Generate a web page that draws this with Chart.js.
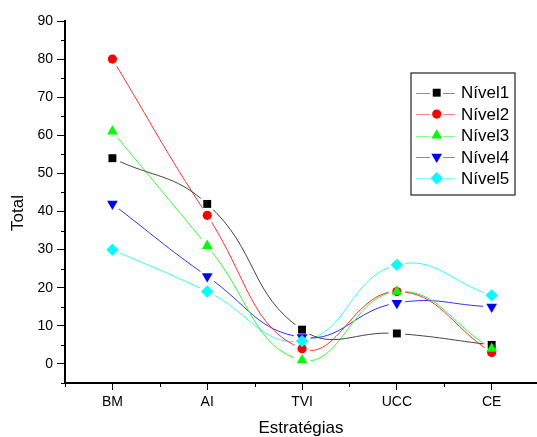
<!DOCTYPE html>
<html><head><meta charset="utf-8">
<script src="https://cdn.jsdelivr.net/npm/chart.js@4/dist/chart.umd.min.js"></script>
<style>html,body{margin:0;padding:0;background:#fff;}canvas{display:block;}</style>
</head><body>
<canvas id="c" width="537" height="437"></canvas>
<script>
const categories = ['BM', 'AI', 'TVI', 'UCC', 'CE'];
const nivel1 = [54, 42, 9, 8, 5];
const nivel2 = [80, 39, 4, 19, 3];
const nivel3 = [61, 31, 1, 19, 4];
const nivel4 = [42, 23, 7, 16, 15];
const nivel5 = [30, 19, 6, 26, 18];
const seriesNames = ['Nível1', 'Nível2', 'Nível3', 'Nível4', 'Nível5'];
const yTickValues = [0, 10, 20, 30, 40, 50, 60, 70, 80, 90];
const xTitle = 'Estratégias';
const yTitle = 'Total';

const seriesValues = [nivel1, nivel2, nivel3, nivel4, nivel5];
const colors = ['#000000', '#ff0000', '#00ff00', '#0000ff', '#00ffff'];
const lineColors = ['#444444', '#ff3030', '#30ff30', '#3030ff', '#30ffff'];
const marks = [
  {style: 'rect', r: 5.6, rot: 0},
  {style: 'circle', r: 4.6, rot: 0},
  {style: 'triangle', r: 6.2, rot: 0},
  {style: 'triangle', r: 6.2, rot: 180},
  {style: 'rectRot', r: 6.2, rot: 0}
];
const FONT = '"Liberation Sans", Arial, sans-serif';
const GAP = 8.5;

const datasets = [];
seriesValues.forEach((vals, i) => {
  datasets.push({
    kind: 'line',
    data: vals.map((v, k) => ({x: k, y: v})),
    borderColor: lineColors[i], borderWidth: 1, tension: 0.45,
    pointRadius: 0, fill: false, order: 20 + i
  });
});
seriesValues.forEach((vals, i) => {
  datasets.push({
    kind: 'points',
    data: vals.map((v, k) => ({x: k, y: v})),
    showLine: false,
    pointStyle: marks[i].style, pointRadius: marks[i].r, pointRotation: marks[i].rot,
    pointBackgroundColor: colors[i], pointBorderColor: colors[i], pointBorderWidth: 0,
    order: 4 - i
  });
});

const gapPlugin = {
  id: 'gap',
  beforeDatasetDraw(chart, args) {
    const ds = chart.data.datasets[args.index];
    if (ds.kind !== 'line') return;
    const ctx = chart.ctx;
    ctx.save();
    ctx.beginPath();
    ctx.rect(0, 0, chart.width, chart.height);
    args.meta.data.forEach(p => {
      ctx.moveTo(p.x + GAP, p.y);
      ctx.arc(p.x, p.y, GAP, 0, Math.PI * 2);
    });
    ctx.clip('evenodd');
  },
  afterDatasetDraw(chart, args) {
    const ds = chart.data.datasets[args.index];
    if (ds.kind !== 'line') return;
    chart.ctx.restore();
  }
};

const decorPlugin = {
  id: 'decor',
  afterDraw(chart) {
    const ctx = chart.ctx;
    const xs = chart.scales.x, ys = chart.scales.y;
    const a = chart.chartArea;
    ctx.save();
    ctx.strokeStyle = '#000';
    ctx.lineWidth = 1;
    for (let v = -5; v < 90; v += 10) {
      const y = Math.round(ys.getPixelForValue(v)) + 0.5;
      ctx.beginPath(); ctx.moveTo(a.left - 4, y); ctx.lineTo(a.left, y); ctx.stroke();
    }
    for (let v = -0.5; v < 4.5; v += 1) {
      const x = Math.round(xs.getPixelForValue(v)) + 0.5;
      ctx.beginPath(); ctx.moveTo(x, a.bottom); ctx.lineTo(x, a.bottom + 4); ctx.stroke();
    }
    ctx.fillStyle = '#000';
    ctx.font = '17px ' + FONT;
    ctx.textAlign = 'center';
    ctx.textBaseline = 'middle';
    ctx.fillText(xTitle, (a.left + a.right) / 2, 428);
    ctx.save();
    ctx.translate(18, 213);
    ctx.rotate(-Math.PI / 2);
    ctx.fillText(yTitle, 0, 0);
    ctx.restore();
    const bx = 411, by = 73, bw = 104, bh = 122;
    ctx.lineWidth = 1.3;
    ctx.strokeStyle = '#333';
    ctx.strokeRect(bx, by, bw, bh);
    seriesNames.forEach((name, i) => {
      const y = 92.7 + i * 21.4;
      ctx.strokeStyle = lineColors[i];
      ctx.globalAlpha = 0.6;
      ctx.lineWidth = 1;
      ctx.beginPath();
      ctx.moveTo(416, Math.round(y) + 0.5); ctx.lineTo(430, Math.round(y) + 0.5);
      ctx.moveTo(443, Math.round(y) + 0.5); ctx.lineTo(455, Math.round(y) + 0.5);
      ctx.stroke();
      ctx.globalAlpha = 1;
      ctx.fillStyle = colors[i];
      Chart.helpers.drawPoint(ctx, {pointStyle: marks[i].style, rotation: marks[i].rot, radius: marks[i].r, borderWidth: 0}, 436.7, y);
      ctx.fillStyle = '#000';
      ctx.font = '17px ' + FONT;
      ctx.textAlign = 'left';
      ctx.textBaseline = 'middle';
      ctx.fillText(name, 461, y + 1);
    });
    ctx.restore();
  }
};

new Chart(document.getElementById('c'), {
  type: 'line',
  data: {datasets},
  plugins: [gapPlugin, decorPlugin],
  options: {
    responsive: false,
    animation: false,
    devicePixelRatio: 1,
    layout: {autoPadding: false, padding: {top: 21, right: 0, left: 0, bottom: 0}},
    plugins: {legend: {display: false}, tooltip: {enabled: false}},
    scales: {
      x: {
        type: 'linear', min: -0.5, max: 4.478,
        afterBuildTicks(s) { s.ticks = categories.map((c, k) => ({value: k})); },
        afterFit(s) { s.height = 54; },
        ticks: {
          callback: (v) => categories[v] ?? '',
          color: '#000', font: {family: FONT, size: 14}, padding: 4, maxRotation: 0, autoSkip: false
        },
        grid: {display: true, drawOnChartArea: false, drawTicks: true, tickLength: 7, color: '#000', lineWidth: 1},
        border: {display: true, color: '#000', width: 2}
      },
      y: {
        type: 'linear', min: -5, max: 90,
        afterBuildTicks(s) { s.ticks = yTickValues.map(v => ({value: v})); },
        afterFit(s) { s.width = 65; },
        ticks: {color: '#000', font: {family: FONT, size: 14}, padding: 4},
        grid: {display: true, drawOnChartArea: false, drawTicks: true, tickLength: 8, color: '#000', lineWidth: 1},
        border: {display: true, color: '#000', width: 2}
      }
    }
  }
});
</script>
</body></html>
